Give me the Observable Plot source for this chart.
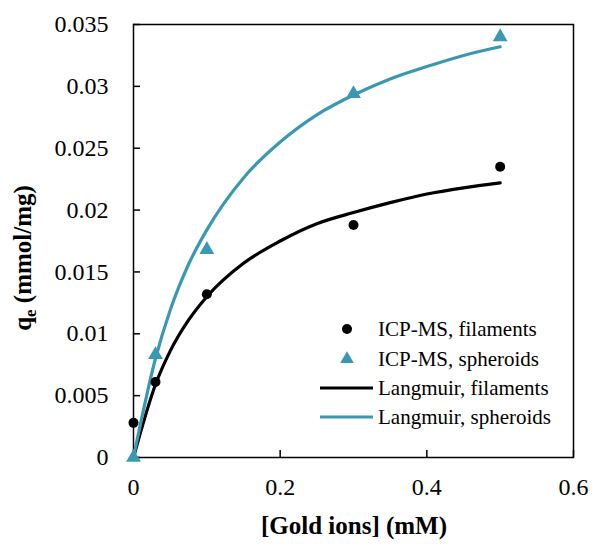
<!DOCTYPE html>
<html>
<head>
<meta charset="utf-8">
<script src="https://cdn.jsdelivr.net/npm/d3@7"></script>
<script src="https://cdn.jsdelivr.net/npm/@observablehq/plot@0.6"></script>
<style>
  html, body { margin: 0; padding: 0; background: #fff; }
  #chart { width: 593px; height: 544px; }
</style>
</head>
<body>
<div id="chart"></div>
<script>
// Measured points (ICP-MS)
const filX = [0, 0.03, 0.1, 0.3, 0.5];
const filY = [0.0028, 0.0061, 0.0132, 0.0188, 0.0235];
const sphX = [0, 0.03, 0.1, 0.3, 0.5];
const sphY = [0, 0.0083, 0.0168, 0.0294, 0.0340];

// Langmuir fit curves
const curveX = [0, 0.03, 0.05, 0.075, 0.1, 0.15, 0.2, 0.25, 0.3, 0.35, 0.4, 0.45, 0.5];
const langFilY = [0, 0.0059, 0.0086, 0.0111, 0.0130, 0.0157, 0.0175, 0.0189, 0.0198, 0.0206, 0.0213, 0.0218, 0.0222];
const langSphY = [0, 0.0080, 0.0119, 0.0156, 0.0184, 0.0226, 0.0255, 0.0277, 0.0293, 0.0306, 0.0316, 0.0325, 0.0332];

const xTicks = [0, 0.2, 0.4, 0.6];
const yTicks = [0, 0.005, 0.01, 0.015, 0.02, 0.025, 0.03, 0.035];

const CYAN = "#3a98b3";
const FONT = "Liberation Serif";

const filPts = filX.map((x, i) => ({x, y: filY[i]}));
const sphPts = sphX.map((x, i) => ({x, y: sphY[i]}));
const filLine = curveX.map((x, i) => ({x, y: langFilY[i]}));
const sphLine = curveX.map((x, i) => ({x, y: langSphY[i]}));

const fmt = d => d === 0 ? "0" : String(+d.toFixed(3));

const svg = Plot.plot({
  width: 593,
  height: 544,
  marginLeft: 133,
  marginRight: 20,
  marginTop: 24,
  marginBottom: 87,
  x: {domain: [0, 0.6], ticks: xTicks, tickFormat: fmt, label: null},
  y: {domain: [0, 0.035], ticks: yTicks, tickFormat: fmt, label: null},
  marks: [
    Plot.axisX({ticks: xTicks, tickFormat: fmt, tickSize: -7, tickPadding: 27, label: null, fontSize: 24, strokeWidth: 1.5}),
    Plot.axisY({ticks: yTicks, tickFormat: fmt, tickSize: -7, tickPadding: 32, label: null, fontSize: 24, strokeWidth: 1.5}),
    Plot.frame({stroke: "#000", strokeWidth: 1.5}),
    Plot.line(filLine, {x: "x", y: "y", stroke: "#000", strokeWidth: 3.2, curve: "monotone-x"}),
    Plot.line(sphLine, {x: "x", y: "y", stroke: CYAN, strokeWidth: 3.2, curve: "monotone-x"}),
    Plot.dot(filPts, {x: "x", y: "y", r: 5, fill: "#000", stroke: null}),
    Plot.dot(sphPts, {x: "x", y: "y", r: 5.5, symbol: "triangle", fill: CYAN, stroke: null})
  ]
});

document.getElementById("chart").appendChild(svg);

const s = d3.select(svg);
// Axis titles
s.append("text")
  .attr("x", 354).attr("y", 534)
  .attr("text-anchor", "middle")
  .attr("font-weight", "bold").attr("font-size", 25)
  .text("[Gold ions] (mM)");

const yl = s.append("text")
  .attr("transform", "translate(31,258) rotate(-90)")
  .attr("text-anchor", "middle")
  .attr("font-weight", "bold").attr("font-size", 25);
yl.append("tspan").text("q");
yl.append("tspan").attr("font-size", 17).attr("dy", 5).text("e");
yl.append("tspan").attr("dy", -5).text(" (mmol/mg)");

// Legend
const legend = [
  {label: "ICP-MS, filaments", kind: "dot", color: "#000", y: 329},
  {label: "ICP-MS, spheroids", kind: "tri", color: CYAN, y: 359},
  {label: "Langmuir, filaments", kind: "line", color: "#000", y: 388},
  {label: "Langmuir, spheroids", kind: "line", color: CYAN, y: 417}
];
const lg = s.append("g").attr("text-anchor", "start");
legend.forEach(d => {
  if (d.kind === "dot") {
    lg.append("circle").attr("cx", 347).attr("cy", d.y).attr("r", 5).attr("fill", d.color);
  } else if (d.kind === "tri") {
    lg.append("path").attr("transform", `translate(347,${d.y})`)
      .attr("d", d3.symbol(d3.symbolTriangle, 80)()).attr("fill", d.color);
  } else {
    lg.append("line").attr("x1", 320).attr("x2", 373).attr("y1", d.y).attr("y2", d.y)
      .attr("stroke", d.color).attr("stroke-width", 3.2);
  }
  lg.append("text").attr("x", 378).attr("y", d.y).attr("dy", "0.33em")
    .attr("text-anchor", "start")
    .attr("font-size", 21).attr("fill", "#000")
    .text(d.label);
});

// Serif font on all text
svg.style.fontFamily = FONT;
s.selectAll("g").attr("font-family", null);
s.selectAll("text").style("font-family", FONT).style("fill", "#000");
</script>
</body>
</html>
